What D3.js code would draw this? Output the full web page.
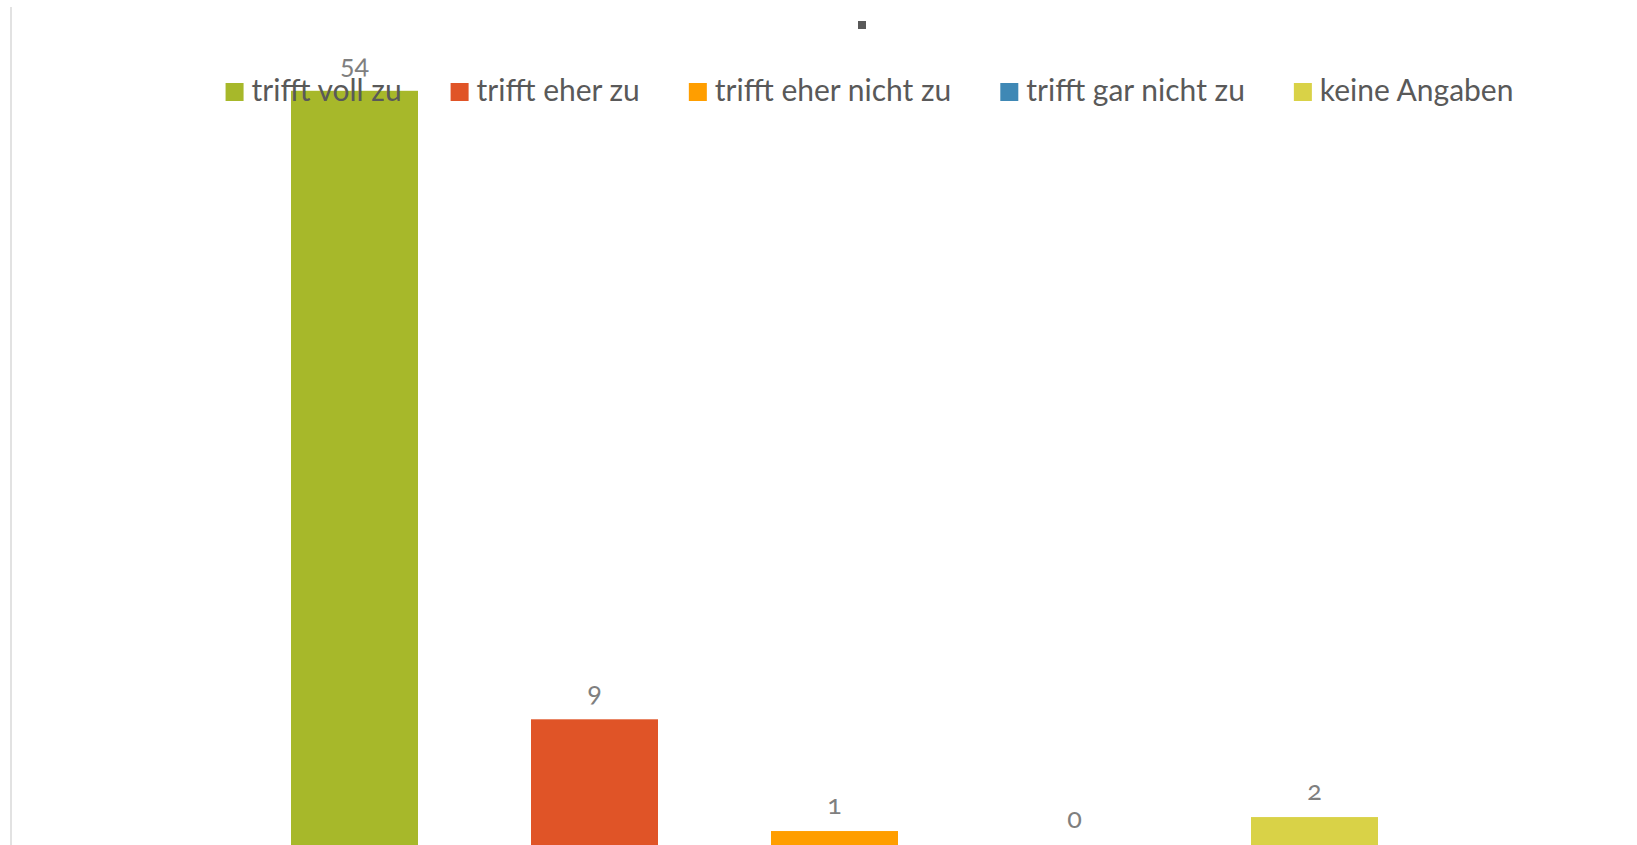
<!DOCTYPE html>
<html>
<head>
<meta charset="utf-8">
<script src="https://cdn.jsdelivr.net/npm/d3@7"></script>
<style>
  html, body { margin: 0; padding: 0; background: #ffffff; }
  svg { display: block; }
</style>
</head>
<body>
<svg id="chart" width="1637" height="845"></svg>
<script>
// ---- data ----
const categories = ["trifft voll zu", "trifft eher zu", "trifft eher nicht zu", "trifft gar nicht zu", "keine Angaben"];
const values = [54, 9, 1, 0, 2];
const colors = ["#A7B82A", "#E05427", "#FF9E00", "#3F88B5", "#D9D247"];
const yDomain = [0, 60];

// ---- layout ----
const W = 1637, H = 845;
const plot = { left: 234.5, right: 1434.5, top: 7, bottom: 845 };
const fontFamily = "Lato, 'Open Sans', 'Noto Sans', sans-serif";

const svg = d3.select("#chart");

// chart area left border
svg.append("line")
  .attr("x1", 11).attr("x2", 11)
  .attr("y1", 7).attr("y2", H)
  .attr("stroke", "#d9d9d9").attr("stroke-width", 1.5);

// title placeholder mark
svg.append("rect")
  .attr("x", 858).attr("y", 21).attr("width", 8).attr("height", 8)
  .attr("fill", "#595959");

const x = d3.scaleBand()
  .domain(categories)
  .range([plot.left, plot.right])
  .paddingInner(113 / 240)
  .paddingOuter(113 / 480);

const y = d3.scaleLinear().domain(yDomain).range([plot.bottom, plot.top]);

const data = categories.map((c, i) => ({ c, v: values[i], color: colors[i] }));

svg.append("g").selectAll("rect")
  .data(data)
  .join("rect")
  .attr("x", d => x(d.c))
  .attr("width", x.bandwidth())
  .attr("y", d => y(d.v))
  .attr("height", d => y(0) - y(d.v))
  .attr("fill", d => d.color);

svg.append("g").selectAll("text")
  .data(data)
  .join("text")
  .attr("x", d => x(d.c) + x.bandwidth() / 2)
  .attr("y", d => y(d.v) - 17)
  .attr("text-anchor", "middle")
  .attr("font-family", fontFamily)
  .attr("font-size", 27)
  .style("font-variant-numeric", "oldstyle-nums")
  .attr("fill", "#7f7f7f")
  .text(d => d.v);

// ---- legend ----
const legendFont = 30;
const swatch = 18, textOffset = 26, itemGap = 49;
const legendCenter = 869.5, legendBaseline = 101;
const lg = svg.append("g");
const items = lg.selectAll("g").data(data).join("g");
items.append("rect")
  .attr("width", swatch).attr("height", swatch)
  .attr("y", legendBaseline - swatch)
  .attr("fill", d => d.color);
items.append("text")
  .attr("x", textOffset)
  .attr("y", legendBaseline)
  .attr("font-family", fontFamily)
  .attr("font-size", legendFont)
  .attr("fill", "#595959")
  .text(d => d.c);
let widths = [];
items.each(function () { widths.push(d3.select(this).select("text").node().getComputedTextLength()); });
const total = d3.sum(widths.map(w => textOffset + w)) + itemGap * (widths.length - 1);
let cx = legendCenter - total / 2;
items.attr("transform", (d, i) => {
  const t = `translate(${cx},0)`;
  cx += textOffset + widths[i] + itemGap;
  return t;
});
</script>
</body>
</html>
